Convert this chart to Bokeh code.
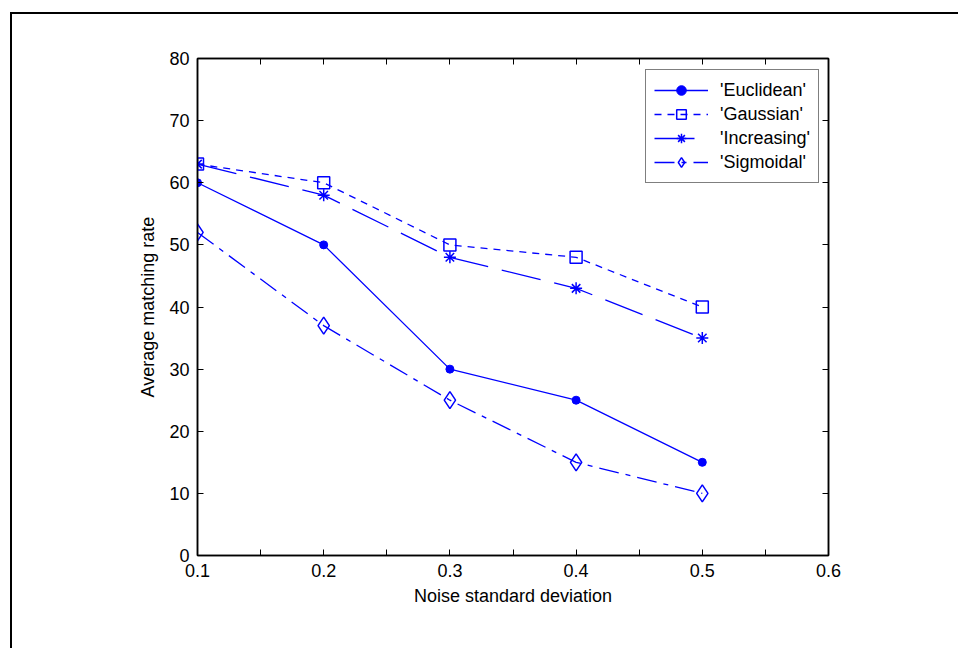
from bokeh.plotting import figure
from bokeh.models import LinearAxis, FixedTicker, Legend
from bokeh.embed import file_html
from bokeh.resources import INLINE

noise = [0.1, 0.2, 0.3, 0.4, 0.5]
euclidean = [60, 50, 30, 25, 15]
gaussian = [63, 60, 50, 48, 40]
increasing = [63, 58, 48, 43, 35]
sigmoidal = [52, 37, 25, 15, 10]

x_ticks = [0.1, 0.2, 0.3, 0.4, 0.5, 0.6]
x_minor = [0.15, 0.25, 0.35, 0.45, 0.55]
y_ticks = [0, 10, 20, 30, 40, 50, 60, 70, 80]

FONT = "Liberation Sans"
BLUE = "#0000ff"

p = figure(width=948, height=636, x_range=(0.1, 0.6), y_range=(0, 80),
           output_backend="svg", toolbar_location=None,
           min_border_left=185, min_border_right=132,
           min_border_top=44, min_border_bottom=95,
           x_axis_location=None, y_axis_location=None)
p.styles = {"margin-left": "10px", "margin-top": "12px",
            "border-left": "2px solid black", "border-top": "2px solid black"}
p.xgrid.visible = False
p.ygrid.visible = False
p.outline_line_color = "black"
p.outline_line_width = 1.5


def style_axis(ax, ticks, show_labels):
    ax.axis_line_color = "black"
    ax.axis_line_width = 1.5
    ax.major_tick_in = 6
    ax.major_tick_out = 0
    ax.minor_tick_in = 6
    ax.minor_tick_out = 0
    ax.major_tick_line_color = "black"
    ax.minor_tick_line_color = "black"
    ax.major_label_text_font = FONT
    ax.major_label_text_font_size = "18px"
    ax.major_label_text_color = "black"
    ax.axis_label_text_font = FONT
    ax.axis_label_text_font_size = "18px"
    ax.axis_label_text_font_style = "normal"
    ax.axis_label_text_color = "black"
    if not show_labels:
        ax.major_label_overrides = {t: "" for t in ticks}
        ax.major_label_standoff = 0


xt = FixedTicker(ticks=x_ticks, minor_ticks=x_minor)
yt = FixedTicker(ticks=y_ticks, minor_ticks=[])

xb = LinearAxis(ticker=xt, axis_label="Noise standard deviation")
style_axis(xb, x_ticks, True)
xb.major_label_standoff = 8
xb.axis_label_standoff = 6
p.add_layout(xb, "below")

xa = LinearAxis(ticker=xt)
style_axis(xa, x_ticks, False)
p.add_layout(xa, "above")

yl = LinearAxis(ticker=yt, axis_label="Average matching rate")
style_axis(yl, y_ticks, True)
yl.major_label_standoff = 8
yl.axis_label_standoff = 8
p.add_layout(yl, "left")

yr = LinearAxis(ticker=yt)
style_axis(yr, y_ticks, False)
p.add_layout(yr, "right")

items = []
r1 = p.line(noise, euclidean, line_color=BLUE, line_width=1.3)
m1 = p.scatter(noise, euclidean, marker="circle", size=8, fill_color=BLUE, line_color=BLUE)
items.append(("'Euclidean'", [r1, m1]))

r2 = p.line(noise, gaussian, line_color=BLUE, line_width=1.3, line_dash="7 6")
m2 = p.scatter(noise, gaussian, marker="square", size=12, fill_color=None, line_color=BLUE, line_width=1.5)
items.append(("'Gaussian'", [r2, m2]))

r3 = p.line(noise, increasing, line_color=BLUE, line_width=1.3, line_dash="40 14")
m3 = p.scatter(noise, increasing, marker="asterisk", size=12, line_color=BLUE, line_width=1.5)
items.append(("'Increasing'", [r3, m3]))

r4 = p.line(noise, sigmoidal, line_color=BLUE, line_width=1.3, line_dash="20 7 5 7")
m4 = p.scatter(noise, sigmoidal, marker="diamond", size=17, fill_color=None,
               line_color=BLUE, line_width=1.5)
items.append(("'Sigmoidal'", [r4, m4]))

legend = Legend(items=items, location=(448, 372))
legend.label_text_font = FONT
legend.label_text_font_size = "18px"
legend.label_text_color = "black"
legend.border_line_color = "black"
legend.border_line_width = 1
legend.background_fill_color = "white"
legend.background_fill_alpha = 1
legend.glyph_width = 54
legend.glyph_height = 24
legend.label_height = 20
legend.spacing = 0
legend.padding = 8
legend.margin = 0
legend.label_standoff = 12
p.add_layout(legend, "center")

open("out.html", "w").write(file_html(p, INLINE))
